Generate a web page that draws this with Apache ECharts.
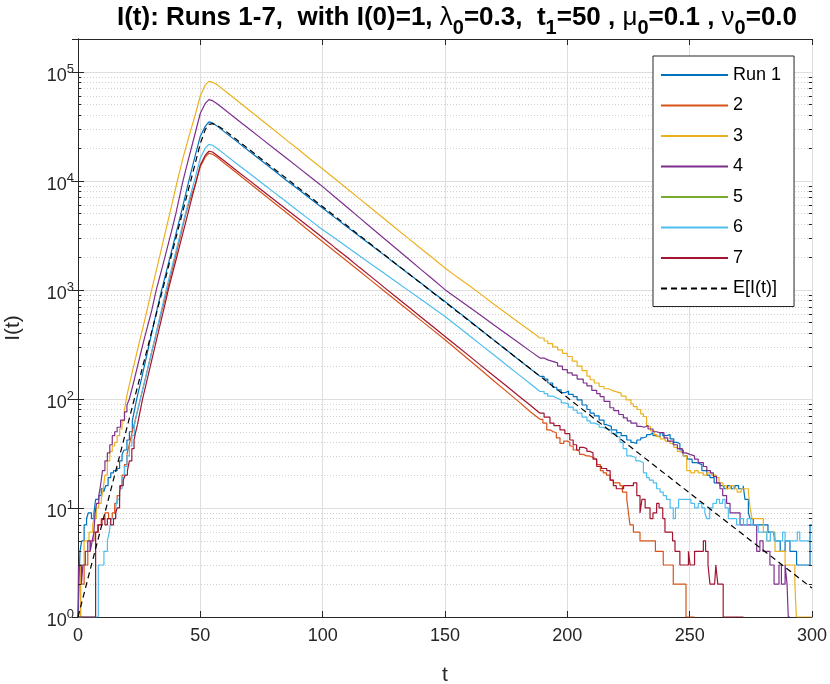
<!DOCTYPE html>
<html><head><meta charset="utf-8">
<script src="https://cdn.jsdelivr.net/npm/echarts@6/dist/echarts.min.js"></script>
<style>html,body{margin:0;padding:0;background:#fff}#c{width:830px;height:684px}</style>
</head><body><div id="c"></div>
<script>
// ---------------- data ----------------
const xMin = 0, xMax = 300, xStep = 50;
const yMin = 1, yMax = 2e5;
const legendNames = ['Run 1', '2', '3', '4', '5', '6', '7', 'E[I(t)]'];
const runColors = ['#0072BD', '#D95319', '#EDB120', '#7E2F8E', '#77AC30', '#4DBEEE', '#A2142F'];

const run1Early = [[0,1],[0.4,2],[0.8,4],[1.5,5],[2.5,7],[3.5,8],[4.2,9],[5.5,8],[6.5,9],[7.2,12],[8.5,13],[9.5,15],[10.5,14],[11.3,16],[12.3,19],[13.4,21],[14.5,22],[16,23],[17,27],[18,31],[18.8,34],[20,42],[21,50],[22.2,63]];
const run1Main = [[22.2,63],[24,100],[26,155],[28,245],[30,390],[32,620],[34.2,1000],[36,1440],[38,2160],[40,3250],[42,4900],[45.3,10000],[48,17400],[50,25700],[52,31600],[53.5,34700],[55,34000],[57,31600],[60,28000],[65,22900],[70,18700],[75,15300],[80,12500],[85,10200],[90,8370],[95,6850],[99,5840],[105,4600],[110,3780],[115,3110],[120,2550],[125,2095],[130,1720],[135,1413],[140,1161],[145,953],[150,784],[155,639],[160,521],[165,425],[170,346],[175,282],[180,230],[185,188],[188.8,161]];
const run1Tail = [[188.8,161],[190.5,152],[192,140],[194,128],[195.7,121],[197.5,114],[199,118],[200.5,110],[202.4,105],[204,98],[206,88],[208,80],[209.3,74],[211,70],[213,64],[215,58],[216.1,56],[218,52],[220.2,49],[222,46],[224.3,42],[226,40],[227,39],[228.4,42],[230,44],[231.1,45],[232.4,47],[233.8,49],[235,46],[236.5,45],[237.9,49],[239,46],[240.5,47],[242,43],[243.5,40],[244.7,39],[246,34],[247.4,30],[249,28],[251,26],[253,25],[255,22],[257,20],[258.3,19],[260,17],[262.4,16],[264,15],[265.5,16],[267,15],[268.5,16],[270,15],[271.9,16],[272.6,12],[274,9],[274.7,8],[276,7],[278,7],[280,7],[282,6],[284.2,6],[285,5],[287,4],[289,5],[291,4],[293.7,3],[296,3],[298,3],[299.2,7],[300,7]];

const run2Early = [[0,1],[1,2],[2.5,3],[4,4],[5,5],[6.5,6],[8,7],[9.5,8],[11,9],[12.5,8],[14,9],[15,11],[16,13],[17,16],[18,20],[19,25],[20,31]];
const run2Main = [[20,31],[22,48],[24,73],[25.5,100],[28,170],[30,260],[32,400],[34,610],[36.5,1000],[38,1380],[40,2100],[42,3200],[44,4900],[46,7000],[48,9300],[50,13500],[52,16500],[53.5,17900],[55,17500],[57,16400],[60,14450],[65,11750],[70,9550],[75,7770],[80,6320],[85,5150],[90,4190],[95,3400],[99,2885],[105,2250],[110,1830],[115,1490],[120,1210],[125,984],[130,800],[135,650],[140,528],[145,430],[150,349],[155,281],[160,226],[165,182],[170,146],[175,118],[180,95],[185,76],[188.8,65]];
const run2Tail = [[188.8,65],[190,60],[191.6,52],[193,50],[194.3,49],[195.5,44],[197,39],[198.5,41],[200,40],[201,37],[202.4,34],[204,33],[205,31],[206.5,30],[208,30],[209,29],[210.6,28],[212,25],[213.5,22],[214.7,21],[216,20],[217.5,18],[218.8,17],[220,17],[221.5,16],[222.5,14],[224.3,12],[225,9],[225.6,7],[227,6],[229.7,5],[236,4],[239.2,3],[243.3,2],[248.5,1],[252,1]];

const run3Early = [[0,1],[1.1,3],[2.5,5],[4.5,6],[6,7],[6.5,8],[7.5,10],[8.5,11],[9.5,12],[10.3,15],[11,20],[12,27],[13,33],[14,37],[15,40],[16,46],[17,53],[18,63],[19,80]];
const run3Main = [[19,80],[20,108],[22,170],[25,327],[28,620],[30,980],[32,1500],[35,2900],[38,5600],[40.6,10000],[43,16500],[45,24000],[48,41000],[50,60300],[52,75500],[53.5,81800],[55,80400],[57,75900],[60,67000],[65,54500],[70,44400],[75,36100],[80,29400],[85,23900],[90,19500],[95,15800],[99,13400],[105,10450],[110,8470],[115,6870],[120,5570],[125,4520],[130,3660],[135,2970],[140,2410],[145,1960],[150,1590],[155,1310],[160,1090],[165,900],[170,740],[175,610],[180,505],[185,420],[188.8,362]];
const run3Tail = [[188.8,362],[190.5,340],[192,322],[194,300],[196,282],[198,262],[200,245],[202,222],[204,200],[206,182],[208,162],[209.3,150],[211,140],[213,130],[215,124],[217,119],[218.5,116],[220.2,113],[222,106],[224,98],[226,90],[227,85],[228.5,80],[230,73],[231.1,69],[232.4,56],[234,51],[235.5,47],[236.5,45],[238,43],[240,41],[242,39],[243.5,36],[245,33],[246,32],[247.4,30],[248.8,22],[250.5,21],[252,22],[253.5,21],[255.6,20],[257,21],[259,20],[260.7,19],[262,17],[263.6,16],[265,15],[266.5,16],[268,15],[269.4,14],[271,15],[272.5,15],[274,14],[274.7,10],[275.5,8],[277,8],[279,8],[280.1,6],[281.5,5],[283,6],[284.9,4],[287,4],[289,3],[293,2],[293.6,1],[300,1]];

const run4Early = [[0,1],[0.2,3],[1.4,2],[2,3],[3,4],[4,5],[5,4],[5.8,5],[6.5,6],[7,9],[7.6,11],[8.5,13],[9.2,16],[10,22],[11,27],[12,32],[13,38],[14,46],[15,50],[16,55],[17.4,64],[19,76],[20,88]];
const run4Main = [[20,88],[21,100],[23,150],[25,230],[27,350],[30,630],[32,1000],[35,1800],[38,3300],[40,5000],[42.9,10000],[45,15300],[48,27900],[50,41700],[52,51300],[53.5,55600],[55,54400],[57,50700],[60,44900],[65,36600],[70,29900],[75,24400],[80,19900],[85,16300],[90,13300],[95,10850],[99,9230],[105,7110],[110,5720],[115,4600],[120,3700],[125,2980],[130,2400],[135,1930],[140,1550],[145,1250],[150,1005],[155,834],[160,692],[165,575],[170,477],[175,396],[180,329],[185,273],[188.8,237]];
const run4Tail = [[188.8,237],[190.5,228],[192,220],[194.3,214],[196,200],[198,186],[200,173],[202,165],[204,152],[206.5,140],[208,132],[210,120],[212,112],[213.4,105],[215,95],[217.4,83],[219,78],[221,72],[222.9,67],[224.5,63],[226,60],[228.4,56],[230,55],[231.5,57],[233,53],[235,50],[236.5,49],[237.9,49],[239.5,44],[241,41],[243.3,38],[245,35],[247,32],[248.5,31],[250.1,30],[252,28],[253.5,26],[255.6,24],[257,22],[258.5,21],[259.7,19.5],[261,17],[262.4,15],[263.5,13],[265.1,11],[266.5,9],[269.2,9],[270.6,7],[273.3,7],[275,7],[277.4,4],[278.7,5],[280,4],[282.8,3],[284.5,2],[286.5,3],[287.5,2],[289,3],[289.8,2],[290.3,1],[291,1]];

const run5Early = [[0,1],[2,1]];

const run6Early = [[0,1],[8.3,3],[10.6,4],[12,5],[12.8,6],[13.4,8],[15.4,10],[16,12],[17,15],[18,19],[19,24],[20,30],[21,37],[22,46],[23,57],[23.6,66]];
const run6Main = [[23.6,66],[25.5,100],[28,170],[30,265],[32,410],[34,640],[36,1000],[38,1500],[40,2250],[42,3400],[44,5100],[46,7500],[48,10800],[50,16200],[52,19950],[53.5,21600],[55,21200],[57,19700],[60,17500],[65,14300],[70,11750],[75,9620],[80,7880],[85,6460],[90,5290],[95,4340],[99,3700],[105,2970],[110,2470],[115,2060],[120,1710],[125,1430],[130,1190],[135,990],[140,824],[145,686],[150,571],[155,466],[160,380],[165,310],[170,253],[175,206],[180,168],[185,137],[188.8,117]];
const run6Tail = [[188.8,117],[190.5,112],[192,106],[194,102],[195.7,98],[197.5,92],[199,90],[200.5,84],[202.4,79],[204,74],[206,68],[208,63],[209.3,60],[211,58],[213,55],[214.5,53],[216.1,52],[218,48],[220.2,45],[221.5,40],[222.8,35],[224.3,30],[226,29],[228,27],[229.7,26],[231.1,21],[232.4,19],[233.5,18],[235.1,17],[236.5,15],[237.9,14],[239.2,13],[240.5,12],[242,10],[243.3,8],[244.2,10],[245.5,12],[247,12],[248.8,12],[250.5,11],[252,10],[253.5,11],[255,10],[256.2,9],[257,8],[258.2,10],[259.5,11],[261,12],[262.2,11],[263.5,12],[264.5,10],[265.8,8],[267,8],[269.2,7],[270.6,8],[272,7],[273.5,8],[275,7],[276.5,7],[278,6],[280,6],[281.5,5],[283,6],[284.5,5],[286,5],[288,6],[289,5],[292,5],[294,6],[295,5],[298,5],[299.2,7],[300,7]];

const run7Early = [[0,1],[7.2,6],[8.3,7],[9.8,8],[11,7],[12,8],[13.4,7],[14.5,8],[15.4,9],[16,10],[17,14],[17.4,16],[18.5,18],[19.3,20],[20.2,22],[21,27],[22,35],[22.9,42],[23.6,50],[24.3,58]];
const run7Main = [[24.3,58],[26.4,100],[28,142],[30,220],[32,340],[34,527],[36,815],[36.9,1000],[38,1250],[40,1860],[42,2790],[44,4170],[46,6250],[48,9350],[50,14000],[52,17200],[53.5,18700],[55,18400],[57,17000],[60,15100],[65,12300],[70,10100],[75,8250],[80,6750],[85,5520],[90,4510],[95,3690],[99,3140],[105,2440],[110,1990],[115,1610],[120,1310],[125,1060],[130,861],[135,700],[140,568],[145,461],[150,374],[155,304],[160,247],[165,200],[170,162],[175,132],[180,107],[185,87],[188.8,74]];
const run7Tail = [[188.8,74],[190.5,68],[192.9,60],[194.5,57],[197,52],[199,48],[201,42],[202.4,38],[203.8,34],[205,36],[206.5,35],[208,33],[209.3,32],[210.5,28],[212,24],[214,23],[216.1,22],[217.5,18],[218.8,16],[220,15],[221.5,15],[223,16],[224.5,16],[227,17],[228.4,13],[229.7,9],[230.5,12],[231.8,10],[233.8,8],[235,9],[236.5,11],[237.5,10],[239,8],[239.9,6],[241.5,6],[243,5],[244,4],[246,3],[248,3],[249.5,4],[250.2,3],[252,4],[254.5,4],[255.6,5],[256.5,4],[257.5,3],[258.3,2],[260.2,2],[260.7,3],[261.5,2],[263.7,1],[272,1]];

const expected = [[0,1],[10,7.4],[20,54.6],[30,403],[40,2980],[45,8100],[48,14700],[50,22000],[52,29500],[53.5,33000],[55,33500],[57,32200],[60,29000],[100,5800],[150,773],[200,103],[250,13.7],[300,1.84]];

// ---------------- chart ----------------
const FONT = 'Liberation Sans, Arial, Helvetica, sans-serif';
const AX = '#262626';

const minorVals = [];
for (let k = 0; k <= 5; k++) for (let m = 2; m <= 9; m++) { const v = m * Math.pow(10, k); if (v < yMax) minorVals.push(v); }

const series = [];
// minor grid lines (dotted) and minor ticks
series.push({
  type: 'line', data: [], silent: true, z: 1, animation: false,
  markLine: { silent: true, z: 1, animation: false, symbol: ['none', 'none'], label: { show: false },
    lineStyle: { color: '#cfcfcf', type: [1, 2], width: 1 },
    data: minorVals.map(v => ({ yAxis: v })) }
});
series.push({
  type: 'line', data: [], silent: true, z: 3, animation: false,
  markLine: { silent: true, z: 3, animation: false, symbol: ['none', 'none'], label: { show: false },
    lineStyle: { color: AX, type: 'solid', width: 1 },
    data: minorVals.flatMap(v => [[{ coord: [xMin, v] }, { coord: [xMin + 1.3, v] }], [{ coord: [xMax - 1.3, v] }, { coord: [xMax, v] }]]) }
});

function addRun(name, color, parts) {
  parts.forEach(p => {
    if (!p.data) return;
    series.push({
      type: 'line', name: name, data: p.data, step: p.step ? 'end' : false,
      showSymbol: false, symbol: 'none', animation: false, z: 2, color: color,
      lineStyle: { color: color, width: 1.2 }, itemStyle: { color: color }
    });
  });
}
addRun('Run 1', runColors[0], [{ data: run1Early, step: true }, { data: run1Main }, { data: run1Tail, step: true }]);
addRun('2', runColors[1], [{ data: run2Early, step: true }, { data: run2Main }, { data: run2Tail, step: true }]);
addRun('3', runColors[2], [{ data: run3Early, step: true }, { data: run3Main }, { data: run3Tail, step: true }]);
addRun('4', runColors[3], [{ data: run4Early, step: true }, { data: run4Main }, { data: run4Tail, step: true }]);
addRun('5', runColors[4], [{ data: run5Early, step: true }]);
addRun('6', runColors[5], [{ data: run6Early, step: true }, { data: run6Main }, { data: run6Tail, step: true }]);
addRun('7', runColors[6], [{ data: run7Early, step: true }, { data: run7Main }, { data: run7Tail, step: true }]);
series.push({
  type: 'line', name: 'E[I(t)]', data: expected, showSymbol: false, symbol: 'none', animation: false, z: 2, color: '#000',
  lineStyle: { color: '#000', width: 1.2, type: [6, 4] }, itemStyle: { color: '#000' }
});

function yLabel(v) {
  const e = Math.round(Math.log10(v));
  if (Math.abs(v - Math.pow(10, e)) > 1e-6 * v) return '';
  return '{b|10}{s|' + e + '}';
}

const option = {
  backgroundColor: '#fff',
  animation: false,
  title: {
    left: 452, top: 0, textAlign: 'center',
    text: '{a|I(t): Runs 1-7,  with I(0)=1, }{g|λ}{s|0}{a|=0.3,  t}{s|1}{a|=50 , }{g|μ}{s|0}{a|=0.1 , }{g|ν}{s|0}{a|=0.0}',
    textStyle: {
      fontFamily: FONT, fontSize: 26, fontWeight: 'bold', color: '#000',
      rich: {
        a: { fontFamily: FONT, fontSize: 26, fontWeight: 'bold', lineHeight: 26, verticalAlign: 'top', color: '#000' },
        g: { fontFamily: FONT, fontSize: 26, fontWeight: 'normal', lineHeight: 26, verticalAlign: 'top', color: '#000' },
        s: { fontFamily: FONT, fontSize: 20, fontWeight: 'bold', lineHeight: 20, verticalAlign: 'top', padding: [13, 0, 0, 0], color: '#000' }
      }
    }
  },
  legend: {
    data: legendNames, left: 653, top: 56, orient: 'vertical',
    itemWidth: 67, itemHeight: 14, itemGap: 12.5, selectedMode: false,
    padding: [10, 13, 9, 7],
    backgroundColor: '#fff', borderColor: AX, borderWidth: 1, borderRadius: 0,
    itemStyle: { opacity: 0 },
    textStyle: { fontFamily: FONT, fontSize: 18, color: '#000' }
  },
  grid: { left: 78, right: 18, top: 39, bottom: 67, containLabel: false, outerBoundsMode: 'none' },
  xAxis: [{
    type: 'value', min: xMin, max: xMax, interval: xStep, position: 'bottom',
    name: 't', nameLocation: 'middle', nameGap: 48,
    nameTextStyle: { fontFamily: FONT, fontSize: 21, color: AX },
    axisLine: { show: true, lineStyle: { color: AX, width: 1 } },
    axisTick: { show: true, inside: true, length: 6, lineStyle: { color: AX } },
    axisLabel: { fontFamily: FONT, fontSize: 18, color: AX, margin: 10 },
    splitLine: { show: true, lineStyle: { color: '#dedede', width: 1 } }
  }, {
    type: 'value', min: xMin, max: xMax, interval: xStep, position: 'top',
    axisLine: { show: true, lineStyle: { color: AX, width: 1 } },
    axisTick: { show: true, inside: true, length: 6, lineStyle: { color: AX } },
    axisLabel: { show: false }, splitLine: { show: false }
  }],
  yAxis: [{
    type: 'log', logBase: 10, min: yMin, max: yMax, position: 'left',
    name: 'I(t)', nameLocation: 'middle', nameGap: 54,
    nameTextStyle: { fontFamily: FONT, fontSize: 21, color: AX },
    axisLine: { show: true, lineStyle: { color: AX, width: 1 } },
    axisTick: { show: true, inside: true, length: 6, lineStyle: { color: AX } },
    axisLabel: {
      fontFamily: FONT, color: AX, margin: 4, formatter: yLabel,
      rich: {
        b: { fontFamily: FONT, fontSize: 18, color: AX, lineHeight: 18, verticalAlign: 'top', padding: [4, 0, 14, 0] },
        s: { fontFamily: FONT, fontSize: 13, color: AX, lineHeight: 13, verticalAlign: 'top' }
      }
    },
    splitLine: { show: true, lineStyle: { color: '#dedede', width: 1 } }
  }, {
    type: 'log', logBase: 10, min: yMin, max: yMax, position: 'right',
    axisLine: { show: true, lineStyle: { color: AX, width: 1 } },
    axisTick: { show: true, inside: true, length: 6, lineStyle: { color: AX } },
    axisLabel: { show: false }, splitLine: { show: false }
  }],
  series: series
};

const chart = echarts.init(document.getElementById('c'), null, { renderer: 'canvas' });
chart.setOption(option);
</script>
</body></html>
